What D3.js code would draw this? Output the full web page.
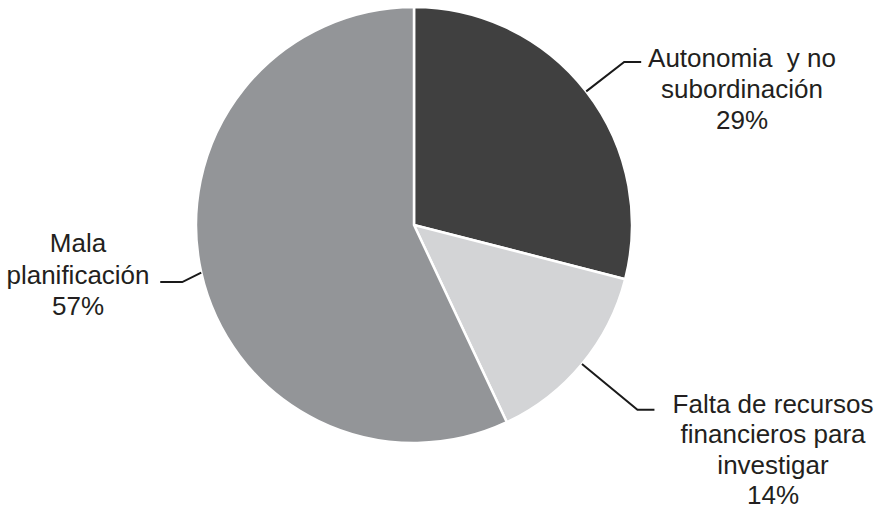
<!DOCTYPE html>
<html><head><meta charset="utf-8">
<script src="https://cdn.jsdelivr.net/npm/d3@7"></script>
<style>html,body{margin:0;padding:0;background:#fff;}svg{display:block;}</style>
</head><body>
<script>
const categories = ["Autonomia y no subordinación", "Falta de recursos financieros para investigar", "Mala planificación"];
const values = [29, 14, 57];
const labelLines = [["Autonomia  y no", "subordinación", "29%"], ["Falta de recursos", "financieros para", "investigar", "14%"], ["Mala", "planificación", "57%"]];
const colors = ["#404040", "#d3d4d6", "#939598"];

const W = 881, H = 510, cx = 414, cy = 225, R = 218;
// label layout: elbow radius, horizontal segment length, text center x, first baseline y, line step
const layout = [
  {elbowR: 266, hLen: 17, tx: 742, ty: 67, step: 31},
  {elbowR: 290, hLen: 17, tx: 773, ty: 413, step: 30.3},
  {elbowR: 0, hLen: -22, tx: 78, ty: 252, step: 31.5}
];

const svg = d3.select("body").append("svg").attr("width", W).attr("height", H);
const g = svg.append("g").attr("transform", `translate(${cx},${cy})`);
const pie = d3.pie().sort(null).value(d => d)(values);
const arc = d3.arc().innerRadius(0).outerRadius(R);
g.selectAll("path.slice").data(pie).join("path")
  .attr("class", "slice").attr("d", arc)
  .attr("fill", (d, i) => colors[i]).attr("stroke", "#fff").attr("stroke-width", 2.5);

const lineGen = d3.line();
pie.forEach((d, i) => {
  const a = (d.startAngle + d.endAngle) / 2;
  const p0 = [R * Math.sin(a), -R * Math.cos(a)];
  const L = layout[i];
  let p1;
  if (L.elbowR > 0) p1 = [L.elbowR * Math.sin(a), -L.elbowR * Math.cos(a)];
  else p1 = [p0[0] - 19, p0[1] + 9.5];
  const p2 = [p1[0] + L.hLen, p1[1]];
  g.append("path").attr("d", lineGen([p0, p1, p2])).attr("fill", "none")
    .attr("stroke", "#1a1a1a").attr("stroke-width", 2);
  const t = svg.append("text").attr("text-anchor", "middle")
    .attr("font-family", "'Liberation Sans', Arial, sans-serif").attr("font-size", 26)
    .attr("fill", "#231f20").style("white-space", "pre");
  labelLines[i].forEach((s, j) => {
    t.append("tspan").attr("x", L.tx).attr("y", L.ty + j * L.step).text(s);
  });
});
</script>
</body></html>
